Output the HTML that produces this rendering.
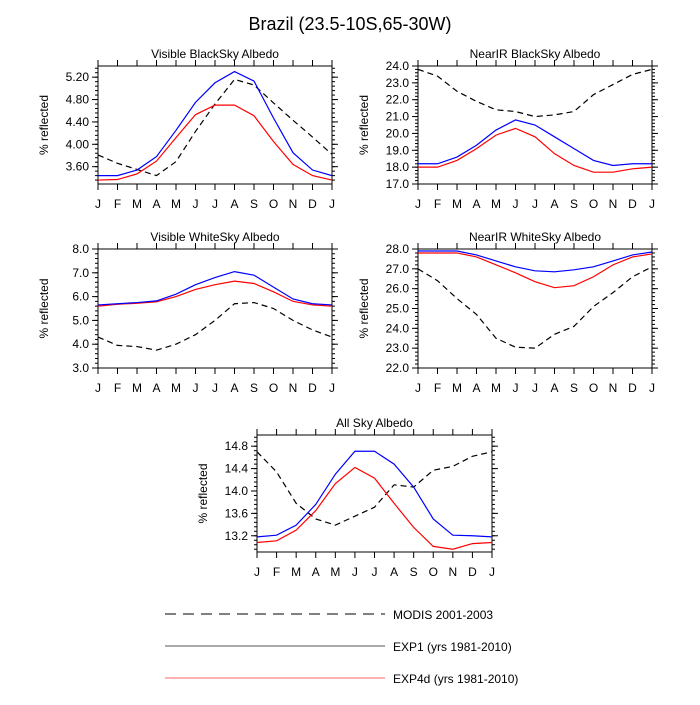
<!DOCTYPE html>
<html><head><meta charset="utf-8"><style>
body{margin:0;background:#fff;}
svg text{font-family:"Liberation Sans",sans-serif;fill:#000;}
</style></head><body>
<svg id="c" width="700" height="700" xmlns="http://www.w3.org/2000/svg">
<rect width="700" height="700" fill="#fff"/>
<text x="350" y="30" font-size="18" text-anchor="middle">Brazil (23.5-10S,65-30W)</text>
<g>
<line x1="165" y1="614" x2="385" y2="614" stroke="#000" stroke-dasharray="11,7" stroke-width="1"/>
<text x="393" y="619" font-size="12">MODIS 2001-2003</text>
<line x1="165" y1="646" x2="385" y2="646" stroke="#555" stroke-width="1"/>
<text x="393" y="651" font-size="12">EXP1 (yrs 1981-2010)</text>
<line x1="165" y1="678" x2="385" y2="678" stroke="#f66" stroke-width="1"/>
<text x="393" y="683" font-size="12">EXP4d (yrs 1981-2010)</text>
</g>
</svg>
<script>
const months=["J","F","M","A","M","J","J","A","S","O","N","D","J"];
const visBlackExp1=[3.44,3.44,3.54,3.78,4.25,4.75,5.10,5.30,5.13,4.47,3.85,3.54,3.44];
const visBlackExp4d=[3.36,3.37,3.47,3.70,4.12,4.53,4.70,4.70,4.51,4.05,3.64,3.44,3.36];
const visBlackModis=[3.81,3.66,3.55,3.44,3.69,4.23,4.72,5.16,5.06,4.74,4.43,4.13,3.82];
const visBlackTicks=[3.60,4.00,4.40,4.80,5.20];
const nirBlackExp1=[18.2,18.2,18.6,19.3,20.2,20.8,20.5,19.8,19.1,18.4,18.1,18.2,18.2];
const nirBlackExp4d=[18.0,18.0,18.4,19.1,19.9,20.3,19.8,18.8,18.1,17.7,17.7,17.9,18.0];
const nirBlackModis=[23.8,23.4,22.5,21.9,21.4,21.3,21.0,21.1,21.3,22.3,22.9,23.5,23.8];
const nirBlackTicks=[17,18,19,20,21,22,23,24];
const visWhiteExp1=[5.65,5.7,5.75,5.82,6.1,6.5,6.8,7.05,6.9,6.4,5.9,5.7,5.65];
const visWhiteExp4d=[5.6,5.68,5.72,5.78,6.0,6.3,6.5,6.65,6.55,6.2,5.8,5.65,5.6];
const visWhiteModis=[4.3,3.95,3.9,3.75,4.0,4.4,5.0,5.7,5.75,5.5,5.0,4.6,4.3];
const visWhiteTicks=[3,4,5,6,7,8];
const nirWhiteExp1=[27.9,27.9,27.9,27.7,27.4,27.1,26.9,26.85,26.95,27.1,27.4,27.7,27.85];
const nirWhiteExp4d=[27.8,27.8,27.8,27.6,27.2,26.8,26.35,26.05,26.15,26.6,27.2,27.6,27.75];
const nirWhiteModis=[27.0,26.4,25.5,24.7,23.5,23.05,23.0,23.7,24.1,25.1,25.8,26.6,27.1];
const nirWhiteTicks=[22,23,24,25,26,27,28];
const allSkyExp1=[13.18,13.21,13.39,13.76,14.30,14.71,14.71,14.48,14.07,13.50,13.21,13.20,13.18];
const allSkyExp4d=[13.08,13.11,13.30,13.65,14.13,14.42,14.23,13.78,13.35,13.01,12.96,13.06,13.08];
const allSkyModis=[14.70,14.34,13.78,13.50,13.39,13.55,13.71,14.11,14.07,14.37,14.44,14.62,14.70];
const allSkyTicks=[13.2,13.6,14.0,14.4,14.8];

const svg=document.getElementById('c');
const NS="http://www.w3.org/2000/svg";
function mk(tag,attrs,parent){const e=document.createElementNS(NS,tag);for(const k in attrs)e.setAttribute(k,attrs[k]);parent.appendChild(e);return e;}

function panel(name,title,x0,x1,y0,y1,vmin,vmax,ticks,dec,minorStep,exp1,exp4d,modis){
  const g=mk('g',{},svg);
  
  
  const xs=i=>x0+(x1-x0)*i/(months.length-1);
  const ys=v=>y1-(v-vmin)/(vmax-vmin)*(y1-y0);
  const t=mk('text',{x:(x0+x1)/2,y:y0-8,'font-size':12,'text-anchor':'middle'},g);
  t.textContent=title;
  
  
  const yl=mk('text',{x:0,y:0,'font-size':12,'text-anchor':'middle',transform:`translate(${x0-50},${(y0+y1)/2}) rotate(-90)`},g);
  yl.textContent='% reflected';
  
  
  months.forEach((m,i)=>{
    const x=xs(i);
    mk('line',{x1:x,y1:y0,x2:x,y2:y0-6,stroke:'#000'},g);
    mk('line',{x1:x,y1:y1,x2:x,y2:y1+6,stroke:'#000'},g);
    const lt=mk('text',{x:x,y:y1+24,'font-size':12,'text-anchor':'middle'},g);
    lt.textContent=m;
    
    
  });
  const start=Math.ceil(vmin/minorStep-1e-6);
  for(let k=start;k*minorStep<=vmax+1e-6;k++){
    const y=ys(k*minorStep);
    mk('line',{x1:x0,y1:y,x2:x0-3,y2:y,stroke:'#000'},g);
    mk('line',{x1:x1,y1:y,x2:x1+3,y2:y,stroke:'#000'},g);
  }
  ticks.forEach(v=>{
    const y=ys(v);
    mk('line',{x1:x0,y1:y,x2:x0-6,y2:y,stroke:'#000'},g);
    mk('line',{x1:x1,y1:y,x2:x1+6,y2:y,stroke:'#000'},g);
    const lt=mk('text',{x:x0-9,y:y+4,'font-size':12,'text-anchor':'end'},g);
    lt.textContent=v.toFixed(dec);
    
    
  });
  mk('rect',{x:x0,y:y0,width:x1-x0,height:y1-y0,fill:'none',stroke:'#000'},g);
  const line=(arr,color,dash,nm)=>{
    const p=mk('polyline',{points:arr.map((v,i)=>xs(i)+','+ys(v)).join(' '),fill:'none',stroke:color,'stroke-width':1.2},g);
    if(dash)p.setAttribute('stroke-dasharray',dash);
    
    
  };
  line(modis,'#000','6,4','modis-line');
  line(exp4d,'#f00',null,'exp4d-line');
  line(exp1,'#00f',null,'exp1-line');
}
panel('visible-blacksky-panel','Visible BlackSky Albedo',98,332,66,184,3.29,5.40,visBlackTicks,2,0.08,visBlackExp1,visBlackExp4d,visBlackModis);
panel('nearir-blacksky-panel','NearIR BlackSky Albedo',418,652,66,184,17,24,nirBlackTicks,1,0.2,nirBlackExp1,nirBlackExp4d,nirBlackModis);
panel('visible-whitesky-panel','Visible WhiteSky Albedo',98,332,249,368,3,8,visWhiteTicks,1,0.2,visWhiteExp1,visWhiteExp4d,visWhiteModis);
panel('nearir-whitesky-panel','NearIR WhiteSky Albedo',418,652,249,368,22,28,nirWhiteTicks,1,0.2,nirWhiteExp1,nirWhiteExp4d,nirWhiteModis);
panel('all-sky-panel','All Sky Albedo',257,492,435,552,12.91,15.0,allSkyTicks,1,0.08,allSkyExp1,allSkyExp4d,allSkyModis);
</script>
</body></html>
